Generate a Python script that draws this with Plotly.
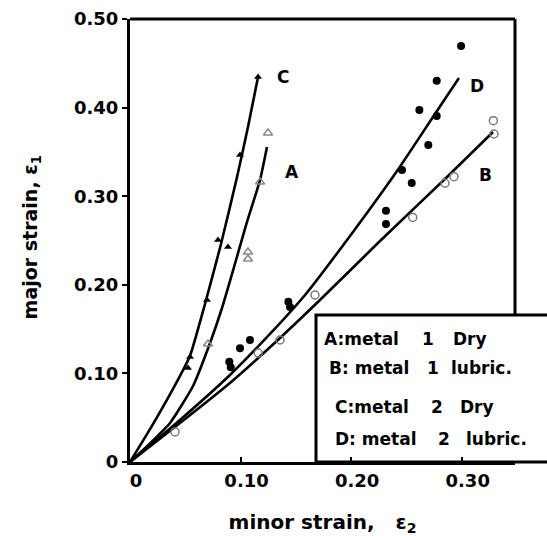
import plotly.graph_objects as go

# ---- fitted strain paths (minor strain e2, major strain e1) ----
curve_c_x = [0, 0.0200, 0.0400, 0.0543, 0.0678, 0.0823, 0.0968, 0.1067, 0.1158]
curve_c_y = [0, 0.0410, 0.0850, 0.1200, 0.1783, 0.2460, 0.3217, 0.3781, 0.4345]

curve_a_x = [0, 0.0181, 0.0362, 0.0570, 0.0724, 0.0832, 0.0941, 0.1058, 0.1176, 0.1239]
curve_a_y = [0, 0.0210, 0.0440, 0.0858, 0.1343, 0.1738, 0.2201, 0.2709, 0.3183, 0.3555]

curve_d_x = [0, 0.0452, 0.0904, 0.1266, 0.1583, 0.1990, 0.2415, 0.2740, 0.2975]
curve_d_y = [0, 0.0474, 0.0982, 0.1445, 0.1885, 0.2551, 0.3284, 0.3894, 0.4334]

curve_b_x = [0, 0.0452, 0.0904, 0.1357, 0.1718, 0.2261, 0.2867, 0.3283]
curve_b_y = [0, 0.0440, 0.0892, 0.1400, 0.1828, 0.2494, 0.3217, 0.3725]

# ---- measured points ----
pts_c_x = [0.1158, 0.0995, 0.0796, 0.0886, 0.0696, 0.0543, 0.0525]
pts_c_y = [0.4345, 0.3465, 0.2506, 0.2427, 0.1828, 0.1185, 0.1061]

pts_a_x = [0.1248, 0.1176, 0.1067, 0.1067, 0.0705]
pts_a_y = [0.3713, 0.3160, 0.2370, 0.2291, 0.1332]

pts_d_x = [0.2994, 0.2774, 0.2617, 0.2774, 0.2698, 0.2460, 0.2548, 0.2315, 0.2315,
           0.1432, 0.1447, 0.1085, 0.0995, 0.0898, 0.0911]
pts_d_y = [0.4695, 0.4304, 0.3973, 0.3905, 0.3578, 0.3296, 0.3149, 0.2836, 0.2686,
           0.1809, 0.1749, 0.1377, 0.1283, 0.1132, 0.1069]

pts_b_x = [0.3286, 0.3292, 0.2930, 0.2849, 0.2557, 0.1673, 0.1357, 0.1160, 0.0407]
pts_b_y = [0.3852, 0.3702, 0.3220, 0.3146, 0.2760, 0.1885, 0.1377, 0.1230, 0.0339]

# curve labels
curve_labels = ["C", "A", "D", "B"]
label_x = [0.1384, 0.1465, 0.3138, 0.3211]
label_y = [0.4345, 0.3273, 0.4244, 0.3239]

# key rows: series name, metal number, condition
key_names = ["A:metal", "B:&nbsp;metal", "C:metal", "D:&nbsp;metal"]
key_metal = ["1", "1", "2", "2"]
key_cond = ["Dry", "lubric.", "Dry", "lubric."]

x_ticks = [0, 0.1, 0.2, 0.3]
x_ticktext = ["0", "0.10", "0.20", "0.30"]
y_ticks = [0, 0.1, 0.2, 0.3, 0.4, 0.5]
y_ticktext = ["0", "0.10", "0.20", "0.30", "0.40", "0.50"]

FONT = "DejaVu Sans"
W, H = 547, 536
ML, MR, MT, MB = 130, 32, 19, 74
PW, PH = W - ML - MR, H - MT - MB


def px_to_paper_x(px):
    return (px - ML) / PW


def px_to_paper_y(py):
    return (H - MB - py) / PH


fig = go.Figure()

for cx, cy in [(curve_c_x, curve_c_y), (curve_a_x, curve_a_y),
               (curve_d_x, curve_d_y), (curve_b_x, curve_b_y)]:
    fig.add_trace(go.Scatter(x=cx, y=cy, mode="lines",
                             line=dict(color="black", width=2.6, shape="spline", smoothing=0.5),
                             showlegend=False, hoverinfo="skip"))

fig.add_trace(go.Scatter(x=pts_c_x, y=pts_c_y, mode="markers",
                         marker=dict(symbol="triangle-up", size=7, color="black"),
                         showlegend=False))
fig.add_trace(go.Scatter(x=pts_a_x, y=pts_a_y, mode="markers",
                         marker=dict(symbol="triangle-up-open", size=8, color="#8a8a8a",
                                     line=dict(width=1.5)),
                         showlegend=False))
fig.add_trace(go.Scatter(x=pts_d_x, y=pts_d_y, mode="markers",
                         marker=dict(symbol="circle", size=8, color="black"),
                         showlegend=False))
fig.add_trace(go.Scatter(x=pts_b_x, y=pts_b_y, mode="markers",
                         marker=dict(symbol="circle-open", size=8, color="#7a7a7a",
                                     line=dict(width=1.5)),
                         showlegend=False))

annotations = []
for t, lx, ly in zip(curve_labels, label_x, label_y):
    annotations.append(dict(x=lx, y=ly, xref="x", yref="y", text=t, showarrow=False,
                            xanchor="center", yanchor="middle",
                            font=dict(family=FONT, size=17, color="black", weight="bold")))

# key text columns (pixel positions of each column, per row)
name_px = [322, 327, 333, 333]
metal_px = [420, 425, 429, 436]
cond_px = [451, 449, 458, 464]
row_py = [339, 368, 407, 439]
key_font = dict(family=FONT, size=17, color="black", weight="bold")
for i in range(4):
    yy = px_to_paper_y(row_py[i])
    for txt, px in [(key_names[i], name_px[i]), (key_metal[i], metal_px[i]),
                    (key_cond[i], cond_px[i])]:
        annotations.append(dict(x=px_to_paper_x(px), y=yy, xref="paper", yref="paper",
                                text=txt, showarrow=False, xanchor="left",
                                yanchor="middle", font=key_font))

shapes = [
    # top frame
    dict(type="line", xref="paper", yref="paper", x0=0, x1=1, y0=1, y1=1,
         line=dict(color="black", width=3)),
    # right frame down to the key box
    dict(type="line", xref="paper", yref="paper", x0=1, x1=1, y0=1, y1=px_to_paper_y(315),
         line=dict(color="black", width=3)),
    # key box
    dict(type="rect", xref="paper", yref="paper", x0=px_to_paper_x(316), x1=1.25,
         y0=0, y1=px_to_paper_y(315),
         line=dict(color="black", width=3), fillcolor="rgba(0,0,0,0)"),
]

fig.update_layout(
    width=W, height=H,
    margin=dict(l=ML, r=MR, t=MT, b=MB, autoexpand=False),
    paper_bgcolor="white", plot_bgcolor="white",
    font=dict(family=FONT, color="black"),
    annotations=annotations,
    shapes=shapes,
    xaxis=dict(range=[0, 0.3482], showgrid=False, zeroline=False,
               showline=True, linewidth=3, linecolor="black",
               ticks="inside", ticklen=5, tickwidth=2, tickcolor="black",
               tickvals=x_ticks, ticktext=x_ticktext, ticklabelshift=6,
               ticklabelstandoff=0,
               tickfont=dict(family=FONT, size=18, weight="bold"),
               title=dict(text="minor strain,&nbsp;&nbsp;&nbsp;ε<sub>2</sub>",
                          font=dict(family=FONT, size=20, weight="bold"), standoff=27)),
    yaxis=dict(range=[0, 0.5], showgrid=False, zeroline=False,
               showline=True, linewidth=3, linecolor="black",
               ticks="outside", ticklen=5, tickwidth=2, tickcolor="black",
               tickvals=y_ticks, ticktext=y_ticktext,
               tickfont=dict(family=FONT, size=18, weight="bold"),
               title=dict(text="&nbsp;major strain, ε<sub>1</sub>",
                          font=dict(family=FONT, size=19, weight="bold"), standoff=32)),
)

fig.write_html("out.html")
